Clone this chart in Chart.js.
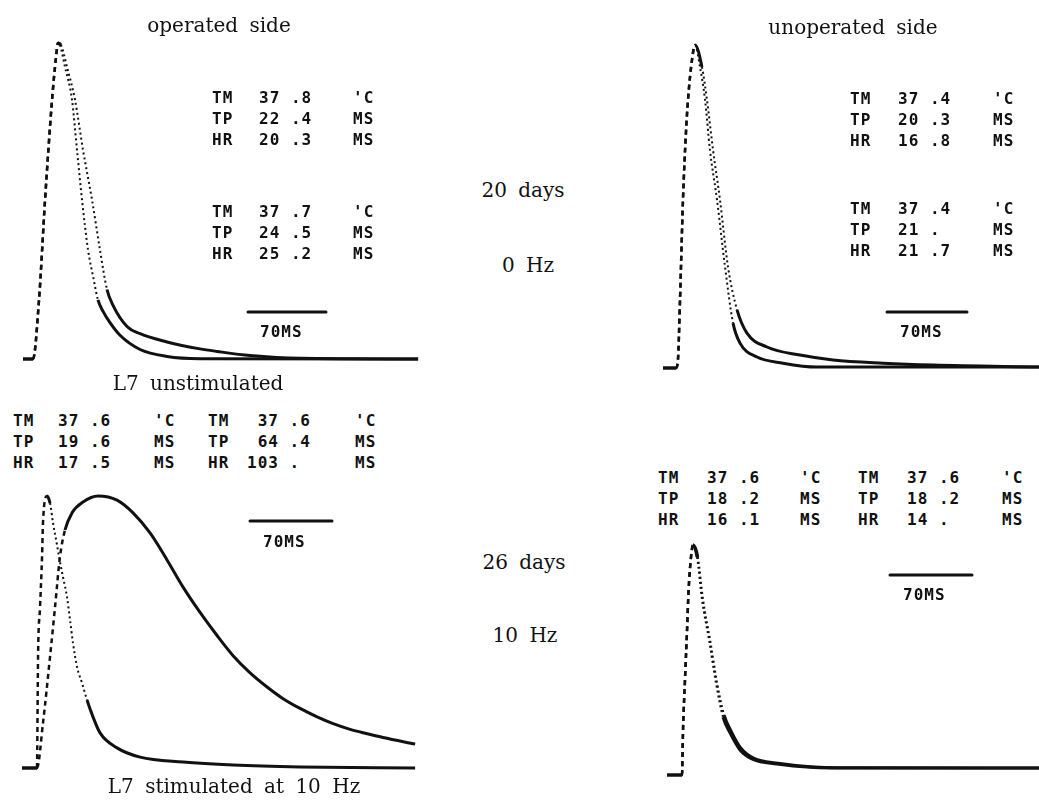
<!DOCTYPE html>
<html>
<head>
<meta charset="utf-8">
<script src="https://cdn.jsdelivr.net/npm/chart.js@4"></script>
<style>
  body { margin: 0; background: #fff; }
  #fig { position: relative; width: 1039px; height: 800px; overflow: hidden; background: #fff; }
  #fig canvas { position: absolute; }
  .serif { position: absolute; font-family: "DejaVu Serif", serif; font-size: 20px; color: #111;
           transform: translate(-50%, -50%); white-space: pre; word-spacing: 5px; line-height: 1; }
  .plot { position: absolute; font-family: "DejaVu Sans Mono", monospace; font-weight: bold; font-size: 16px;
          letter-spacing: 1px; color: #111; white-space: pre; transform: translateY(-50%); line-height: 1; }
</style>
</head>
<body>
<div id="fig"></div>
<script>
// twitch traces: time in ms from onset, force normalised to peak
const SCALE_BAR_MS = 70;

// operated side, 20 days, 0 Hz
const aTime1  = [-9, 0, 5.4, 10.8, 17.1, 20.6, 22.4, 24.2, 28.7, 35.0, 39.5, 44.0, 49.4, 54.0, 58.3, 63.0, 69.1, 78.1, 96.1, 120.3, 149.9, 345.6];
const aForce1 = [0, 0, 0.187, 0.503, 0.82, 0.953, 1.0, 0.994, 0.924, 0.82, 0.661, 0.503, 0.345, 0.26, 0.187, 0.15, 0.115, 0.075, 0.03, 0.008, 0.001, 0];
const aTime2  = [-9, 0, 5.4, 10.8, 17.1, 20.6, 22.4, 25.1, 30.5, 37.7, 44.9, 53.0, 60.1, 66.4, 71.8, 84.4, 96.1, 120.3, 149.9, 165.2, 194.8, 239.7, 345.6];
const aForce2 = [0, 0, 0.187, 0.503, 0.82, 0.953, 1.0, 0.994, 0.924, 0.82, 0.661, 0.503, 0.345, 0.22, 0.17, 0.103, 0.08, 0.054, 0.032, 0.024, 0.011, 0.002, 0];

// unoperated side, 20 days, 0 Hz
const bTime1  = [-11.4, 0, 1.7, 3.5, 6.1, 8.7, 10.5, 14.0, 16.6, 21.0, 25.4, 29.7, 35.9, 42.9, 49.9, 56.0, 70.9, 93.6, 123.4, 317.6];
const bForce1 = [0, 0, 0.025, 0.21, 0.52, 0.728, 0.83, 0.954, 1.0, 0.932, 0.83, 0.675, 0.52, 0.313, 0.139, 0.077, 0.034, 0.015, 0.003, 0.003];
const bTime2  = [-11.4, 0, 1.7, 3.5, 6.1, 8.7, 10.5, 14.0, 16.6, 22.7, 27.1, 32.4, 38.5, 45.5, 53.4, 62.1, 79.6, 108.5, 137.4, 181.1, 224.8, 317.6];
const bForce2 = [0, 0, 0.025, 0.21, 0.52, 0.728, 0.83, 0.954, 1.0, 0.932, 0.83, 0.675, 0.52, 0.313, 0.18, 0.108, 0.065, 0.04, 0.025, 0.015, 0.009, 0.003];

// L7 stimulated at 10 Hz, 26 days (fast = before, slow = stimulated)
const cTime1  = [-12.8, 0, 0.4, 0.9, 2.6, 4.3, 5.1, 8.5, 11.1, 13.7, 17.1, 18.8, 22.2, 25.6, 28.2, 30.7, 34.2, 38.4, 42.7, 47.8, 53.8, 68.3, 88.0, 124.7, 167.4, 224.6, 322.8];
const cForce1 = [0, 0, 0.165, 0.408, 0.592, 0.776, 0.90, 1.0, 0.974, 0.90, 0.82, 0.776, 0.702, 0.629, 0.544, 0.46, 0.371, 0.313, 0.25, 0.188, 0.129, 0.074, 0.04, 0.022, 0.011, 0.004, 0];
const cTime2  = [-12.8, 0, 5.1, 11.1, 15.4, 19.6, 23.9, 29.9, 39.3, 52.1, 68.3, 82.0, 96.5, 111.0, 124.7, 139.2, 153.7, 167.4, 181.9, 196.4, 210.1, 224.6, 239.1, 252.8, 267.3, 281.8, 295.4, 322.8];
const cForce2 = [0, 0, 0.165, 0.408, 0.592, 0.776, 0.875, 0.938, 0.978, 1.0, 0.985, 0.938, 0.864, 0.765, 0.665, 0.572, 0.487, 0.413, 0.35, 0.298, 0.255, 0.219, 0.188, 0.163, 0.142, 0.126, 0.112, 0.088];

// unoperated side, 26 days, 10 Hz
const dTime1  = [-12.8, 0, 0.9, 2.6, 4.3, 5.6, 7.7, 9.4, 12.8, 17.1, 23.1, 29.0, 35.0, 41.0, 49.5, 60.6, 81.1, 109.3, 152.0, 304.9];
const dForce1 = [0, 0, 0.2, 0.42, 0.63, 0.80, 0.948, 1.0, 0.948, 0.761, 0.587, 0.4, 0.252, 0.183, 0.109, 0.068, 0.048, 0.034, 0.03, 0.03];
const dTime2  = [-12.8, 0, 0.9, 2.6, 4.3, 5.6, 7.7, 9.4, 13.5, 18.0, 24.0, 30.0, 36.0, 42.0, 50.5, 61.5, 82.0, 110.0, 152.0, 304.9];
const dForce2 = [0, 0, 0.2, 0.42, 0.63, 0.80, 0.948, 1.0, 0.948, 0.761, 0.587, 0.4, 0.26, 0.19, 0.115, 0.072, 0.051, 0.036, 0.031, 0.03];

// printed parameters
const statLabels = ['TM', 'TP', 'HR'];
const statUnits = ["'C", 'MS', 'MS'];
const aVals1 = ['37 .8', '22 .4', '20 .3'];
const aVals2 = ['37 .7', '24 .5', '25 .2'];
const bVals1 = ['37 .4', '20 .3', '16 .8'];
const bVals2 = ['37 .4', '21 .', '21 .7'];
const cVals1 = ['37 .6', '19 .6', '17 .5'];
const cVals2 = [' 37 .6', ' 64 .4', '103 .'];
const dVals1 = ['37 .6', '18 .2', '16 .1'];
const dVals2 = ['37 .6', '18 .2', '14 .'];

const fig = document.getElementById('fig');

const panels = [
  { left: 0,   top: 30,  width: 430, height: 345, onsetPx: 33,  baselinePx: 359, peakPx: 43,  pxPerMs: 78 / 70,
    bar: { x: 248, y: 312 }, series: [[aTime1, aForce1], [aTime2, aForce2]] },
  { left: 600, top: 30,  width: 439, height: 350, onsetPx: 676, baselinePx: 368, peakPx: 45,  pxPerMs: 80 / 70,
    bar: { x: 887, y: 312 }, series: [[bTime1, bForce1], [bTime2, bForce2]] },
  { left: 0,   top: 480, width: 430, height: 300, onsetPx: 37,  baselinePx: 768, peakPx: 496, pxPerMs: 82 / 70,
    bar: { x: 250, y: 521 }, series: [[cTime1, cForce1], [cTime2, cForce2]] },
  { left: 600, top: 530, width: 439, height: 260, onsetPx: 682, baselinePx: 775, peakPx: 545, pxPerMs: 82 / 70,
    bar: { x: 890, y: 575 }, series: [[dTime1, dForce1], [dTime2, dForce2]] },
];

// plotter pen leaves dashes (rising) or dots (falling) where the trace moves fast
const steep = ctx => Math.abs(ctx.p1.y - ctx.p0.y) > 3.2 * Math.abs(ctx.p1.x - ctx.p0.x);
const rising = ctx => ctx.p1.y < ctx.p0.y;

function makePanel(p) {
  const canvas = document.createElement('canvas');
  canvas.width = p.width;
  canvas.height = p.height;
  canvas.style.left = p.left + 'px';
  canvas.style.top = p.top + 'px';
  fig.appendChild(canvas);

  const amp = p.baselinePx - p.peakPx;
  const xMin = -(p.onsetPx - p.left) / p.pxPerMs;
  const yMax = (p.baselinePx - p.top) / amp;

  new Chart(canvas, {
    type: 'line',
    data: {
      datasets: p.series.map(([t, f]) => ({
        data: t.map((v, i) => ({ x: v, y: f[i] })),
        borderColor: '#111',
        borderWidth: 3,
        pointRadius: 0,
        cubicInterpolationMode: 'monotone',
        clip: false,
        segment: {
          borderDash: ctx => steep(ctx) ? (rising(ctx) ? [5, 4] : [2, 3]) : undefined,
          borderWidth: ctx => steep(ctx) ? (rising(ctx) ? 2.5 : 2) : undefined,
        }
      }))
    },
    plugins: [{
      id: 'scaleBar',
      afterDatasetsDraw: (chart) => {
        const xs = chart.scales.x;
        const ctx = chart.ctx;
        const w = xs.getPixelForValue(SCALE_BAR_MS) - xs.getPixelForValue(0);
        const x0 = p.bar.x - p.left, y0 = p.bar.y - p.top;
        ctx.save();
        ctx.strokeStyle = '#111';
        ctx.lineWidth = 3;
        ctx.lineCap = 'round';
        ctx.beginPath();
        ctx.moveTo(x0, y0);
        ctx.lineTo(x0 + w, y0);
        ctx.stroke();
        ctx.restore();
      }
    }],
    options: {
      responsive: false,
      animation: false,
      events: [],
      layout: { padding: 0 },
      plugins: { legend: { display: false }, tooltip: { enabled: false } },
      scales: {
        x: { type: 'linear', display: false, min: xMin, max: xMin + p.width / p.pxPerMs },
        y: { display: false, min: yMax - p.height / amp, max: yMax }
      }
    }
  });
}

panels.forEach(makePanel);

function addText(cls, txt, x, y) {
  const el = document.createElement('div');
  el.className = cls;
  el.textContent = txt;
  el.style.left = x + 'px';
  el.style.top = y + 'px';
  fig.appendChild(el);
}

// parameter blocks: label x, value x, unit x, first row y, values
const blocks = [
  [212, 259, 353, 98, aVals1], [212, 259, 353, 212, aVals2],
  [850, 898, 993, 99, bVals1], [850, 898, 993, 209, bVals2],
  [13, 58, 154, 421, cVals1], [208, 247, 355, 421, cVals2],
  [658, 707, 800, 478, dVals1], [858, 907, 1002, 478, dVals2],
];
blocks.forEach(([lx, vx, ux, y0, vals]) => {
  statLabels.forEach((lab, i) => {
    const y = y0 + i * 20.8;
    addText('plot', lab, lx, y);
    addText('plot', vals[i], vx, y);
    addText('plot', statUnits[i], ux, y);
  });
});

// scale bar captions
[[260, 332], [900, 332], [263, 542], [903, 595]].forEach(([x, y]) => addText('plot', '70MS', x, y));

// figure labels
addText('serif', 'operated side', 219, 25);
addText('serif', 'unoperated side', 853, 27);
addText('serif', 'L7 unstimulated', 198, 383);
addText('serif', 'L7 stimulated at 10 Hz', 234, 786);
addText('serif', '20 days', 523, 190);
addText('serif', '0 Hz', 528, 265);
addText('serif', '26 days', 524, 562);
addText('serif', '10 Hz', 525, 635);
</script>
</body>
</html>
